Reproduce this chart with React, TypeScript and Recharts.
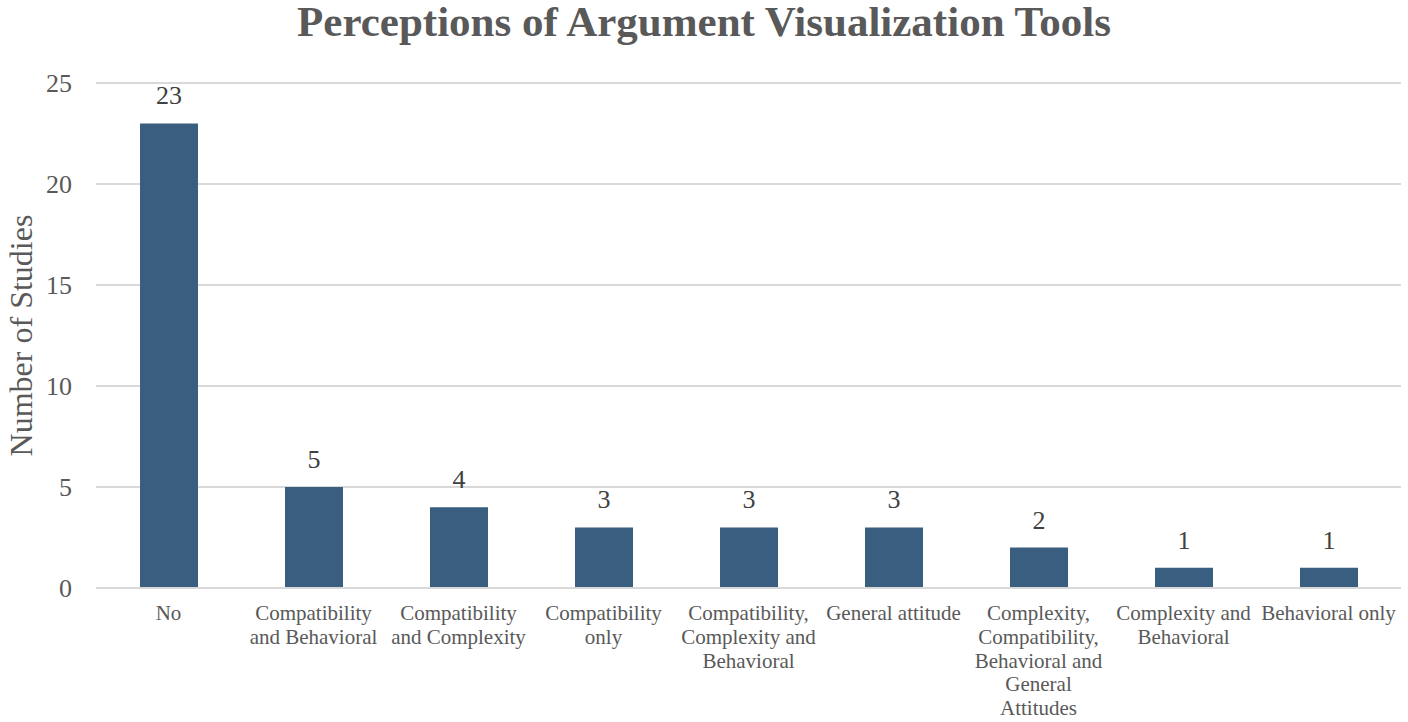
import React from "react";
import { BarChart, Bar, XAxis, YAxis, CartesianGrid, LabelList, Label } from "recharts";

const categories = [
  "No",
  "Compatibility and Behavioral",
  "Compatibility and Complexity",
  "Compatibility only",
  "Compatibility, Complexity and Behavioral",
  "General attitude",
  "Complexity, Compatibility, Behavioral and General Attitudes",
  "Complexity and Behavioral",
  "Behavioral only",
];

const studies = [23, 5, 4, 3, 3, 3, 2, 1, 1];

const tickLines: string[][] = [
  ["No"],
  ["Compatibility", "and Behavioral"],
  ["Compatibility", "and Complexity"],
  ["Compatibility", "only"],
  ["Compatibility,", "Complexity and", "Behavioral"],
  ["General attitude"],
  ["Complexity,", "Compatibility,", "Behavioral and", "General", "Attitudes"],
  ["Complexity and", "Behavioral"],
  ["Behavioral only"],
];

const yTicks = [0, 5, 10, 15, 20, 25];

const data = categories.map((c, i) => ({ category: c, value: studies[i] }));

const FONT = "Liberation Serif, Times New Roman, serif";

const CategoryTick = (props: any) => {
  const { x, y, payload } = props;
  const idx = categories.indexOf(payload.value);
  const lines = idx >= 0 ? tickLines[idx] : [String(payload.value)];
  return (
    <text x={x} y={y} textAnchor="middle" style={{ fill: "#595959", fontSize: 21, fontFamily: FONT }}>
      {lines.map((l, i) => (
        <tspan key={i} x={x} dy={i === 0 ? 24 : 23.8}>
          {l}
        </tspan>
      ))}
    </text>
  );
};

export default function App() {
  return (
    <div style={{ position: "absolute", left: 0, top: 0, width: 1408, height: 722, background: "#fff", fontFamily: FONT }}>
      <div
        style={{
          position: "absolute",
          left: 0,
          top: 0,
          width: 1408,
          textAlign: "center",
          fontFamily: FONT,
          fontWeight: "bold",
          fontSize: 43,
          color: "#595959",
          lineHeight: "44px",
        }}
      >
        Perceptions of Argument Visualization Tools
      </div>
      <BarChart
        width={1408}
        height={722}
        data={data}
        margin={{ top: 83, right: 7, left: 0, bottom: 0 }}
        barCategoryGap="30%"
        style={{ fontFamily: FONT }}
      >
        <CartesianGrid vertical={false} stroke="#d9d9d9" strokeWidth={2} />
        <XAxis
          dataKey="category"
          interval={0}
          tickLine={false}
          axisLine={{ stroke: "#d9d9d9", strokeWidth: 2 }}
          tick={<CategoryTick />}
          height={134}
        />
        <YAxis
          domain={[0, 25]}
          ticks={yTicks}
          width={96}
          tickLine={false}
          axisLine={false}
          tickMargin={18}
          tick={{ fill: "#595959", fontSize: 26, style: { fontFamily: FONT } }}
        >
          <Label
            value="Number of Studies"
            angle={-90}
            position="insideLeft"
            offset={0}
            dx={21}
            style={{ fill: "#595959", fontSize: 32, fontFamily: FONT, textAnchor: "middle" }}
          />
        </YAxis>
        <Bar dataKey="value" fill="#3a5e7f" isAnimationActive={false} barSize={58}>
          <LabelList
            dataKey="value"
            position="top"
            offset={19}
            style={{ fill: "#404040", fontSize: 26, fontFamily: FONT }}
          />
        </Bar>
      </BarChart>
    </div>
  );
}
